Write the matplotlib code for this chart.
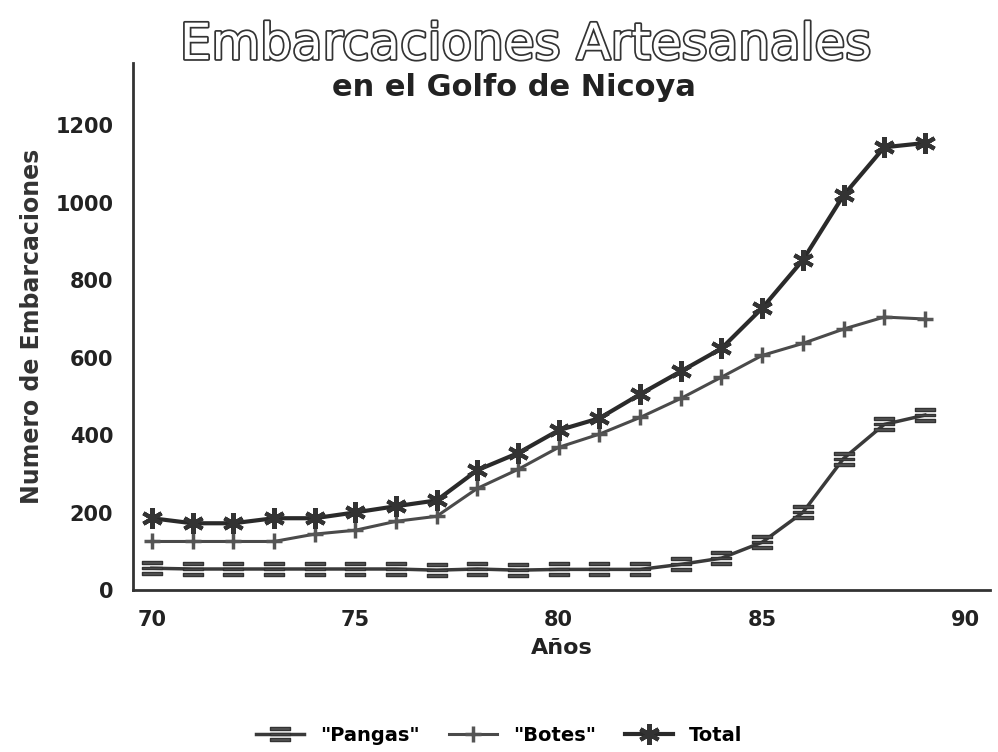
import matplotlib
matplotlib.use("Agg")
import matplotlib.pyplot as plt
import matplotlib.patheffects as pe

years = list(range(70, 90))
pangas = [57, 55, 55, 55, 55, 55, 55, 52, 55, 52, 54, 54, 54, 67, 83, 124, 201, 340, 428, 452]
botes = [126, 126, 126, 126, 145, 155, 178, 191, 263, 312, 369, 403, 446, 495, 550, 606, 637, 674, 705, 700]
total = [186, 173, 173, 186, 186, 201, 217, 232, 310, 354, 413, 444, 506, 565, 624, 728, 852, 1019, 1143, 1154]

x_ticks = [70, 75, 80, 85, 90]
y_ticks = [0, 200, 400, 600, 800, 1000, 1200]

fig = plt.figure(figsize=(9.98, 7.52), dpi=100)
ax = fig.add_axes([0.133, 0.215, 0.859, 0.701])

ax.plot(years, pangas, color="#3a3a3a", lw=2.5, marker="$\\equiv$", ms=14,
        mfc="#555555", mec="#333333", label='"Pangas"')
ax.plot(years, botes, color="#4a4a4a", lw=2.2, marker="+", ms=12, mew=2.5,
        mec="#555555", label='"Botes"')
ax.plot(years, total, color="#2a2a2a", lw=3, marker=(6, 2, 0), ms=15, mew=3,
        mec="#333333", label="Total")

ax.set_xlim(69.53, 90.6)
ax.set_ylim(0, 1360)
ax.set_xticks(x_ticks)
ax.set_yticks(y_ticks)
ax.tick_params(length=0, labelsize=15, pad=14)
for lbl in ax.get_xticklabels() + ax.get_yticklabels():
    lbl.set_fontweight("bold")
    lbl.set_color("#222222")
for s in ["top", "right"]:
    ax.spines[s].set_visible(False)
for s in ["left", "bottom"]:
    ax.spines[s].set_linewidth(2)
    ax.spines[s].set_color("#333333")

ax.set_xlabel("Años", fontsize=16, fontweight="bold", color="#222222", labelpad=6)
ax.set_ylabel("Numero de Embarcaciones", fontsize=17, fontweight="bold",
              color="#333333", labelpad=8)

fig.text(0.527, 0.94, "Embarcaciones Artesanales", ha="center", va="center",
         fontsize=36, color="white",
         path_effects=[pe.withStroke(linewidth=2.5, foreground="#333333")])
fig.text(0.515, 0.883, "en el Golfo de Nicoya", ha="center", va="center",
         fontsize=22, fontweight="bold", color="#222222")

fig.legend(loc="center", bbox_to_anchor=(0.5, 0.022), ncol=3, frameon=False,
           prop={"size": 14, "weight": "bold"}, handlelength=2.5, columnspacing=1.5)

fig.savefig("out.png", dpi=100, facecolor="white")
